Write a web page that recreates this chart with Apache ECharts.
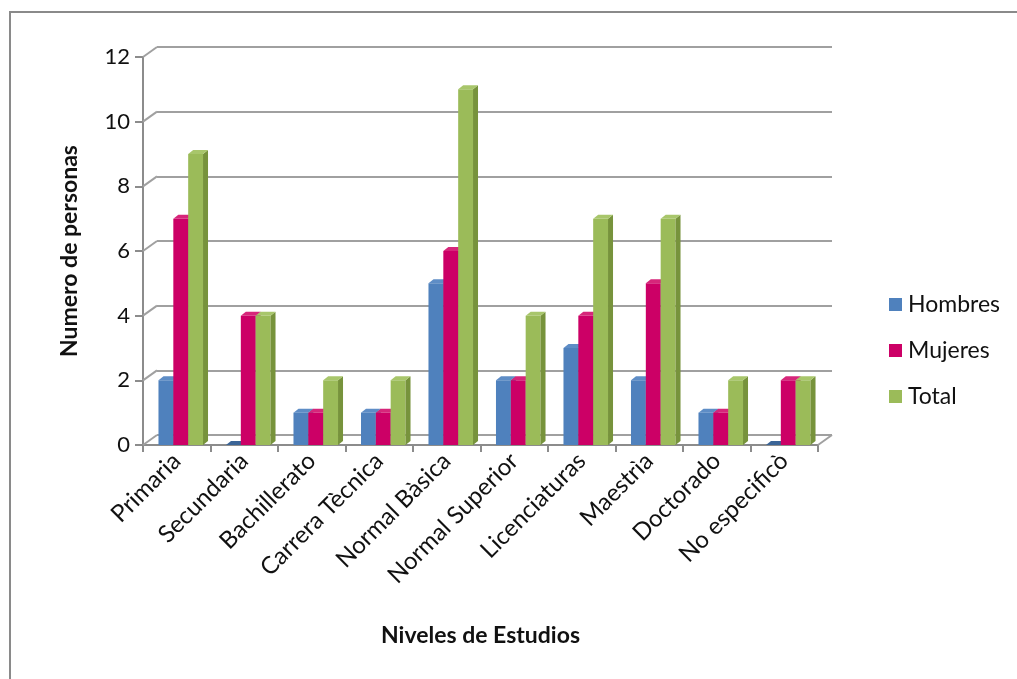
<!DOCTYPE html>
<html><head><meta charset="utf-8">
<script src="https://cdn.jsdelivr.net/npm/echarts@6/dist/echarts.min.js"></script>
<style>html,body{margin:0;padding:0;background:#fff}#c{width:1017px;height:679px}</style>
</head><body><div id="c"></div>
<script>
var categories = ['Primaria','Secundaria','Bachillerato','Carrera Tècnica','Normal Bàsica','Normal Superior','Licenciaturas','Maestrìa','Doctorado','No especificò'];
var hombres = [2,0,1,1,5,2,3,2,1,0];
var mujeres = [7,4,1,1,6,2,4,5,1,2];
var total   = [9,4,2,2,11,4,7,7,2,2];
var seriesNames = ['Hombres','Mujeres','Total'];
var yTicks = [0,2,4,6,8,10,12];

var FONT = 'Lato, "Open Sans", sans-serif';
var front = ['#4F81BD','#CC0066','#9BBB59'];
var side  = ['#3A6496','#99004D','#77933C'];
var topc  = ['#5E8DC6','#D6267A','#A8C66B'];
var DX = 14, DY = -10;   // back-wall offset
var BDX = 5, BDY = -4;   // bar depth

function barRender(si){
  return function(params, api){
    var cat = api.value(0), val = api.value(1);
    var base = api.coord([cat, 0]);
    var tp = api.coord([cat, val]);
    var band = api.size([1,0])[0];
    var bw = band*0.22;
    var x0 = base[0] + 4 - 1.5*bw + si*bw;
    var y0 = tp[1], yb = base[1];
    var children = [];
    if (val > 0) {
      children.push({type:'rect', shape:{x:x0, y:y0, width:bw, height:yb-y0}, style:{fill:front[si]}});
      children.push({type:'polygon', shape:{points:[[x0+bw,y0],[x0+bw+BDX,y0+BDY],[x0+bw+BDX,yb+BDY],[x0+bw,yb]]}, style:{fill:side[si]}});
    }
    children.push({type:'polygon', shape:{points:[[x0,y0],[x0+BDX,y0+BDY],[x0+bw+BDX,y0+BDY],[x0+bw,y0]]}, style:{fill: val>0 ? topc[si] : side[si]}});
    return {type:'group', children:children};
  };
}

function diagRender(params, api){
  var v = api.value(0);
  var cs = params.coordSys;
  var y = api.coord([0, v])[1];
  var children = [{type:'line', shape:{x1:cs.x, y1:y, x2:cs.x+DX, y2:y+DY}, style:{stroke:'#a0a0a0', lineWidth:2}}];
  if (v === 0) {
    children.push({type:'line', shape:{x1:cs.x+cs.width, y1:y, x2:cs.x+cs.width+DX, y2:y+DY}, style:{stroke:'#a0a0a0', lineWidth:2}});
  }
  return {type:'group', children:children};
}

var chart = echarts.init(document.getElementById('c'));
var mk = function(arr){ return arr.map(function(v,i){ return [i, v]; }); };
var data = [hombres, mujeres, total];
var series = [];
for (var s=0; s<3; s++) {
  series.push({type:'custom', name:seriesNames[s], xAxisIndex:0, yAxisIndex:0, renderItem:barRender(s), data:mk(data[s]), itemStyle:{color:front[s]}, z:5});
}
series.push({type:'custom', name:'_diag', xAxisIndex:0, yAxisIndex:0, renderItem:diagRender, data:yTicks.map(function(v){return [v];}), encode:{x:-1,y:0}, silent:true, z:1});

chart.setOption({
  animation:false,
  backgroundColor:'#fff',
  graphic:[{type:'rect', shape:{x:10, y:12, width:1100, height:700}, style:{fill:'none', stroke:'#8a8a8a', lineWidth:2}, z:-10}],
  grid:[
    {left:143, top:57, width:675, height:388},
    {left:143+DX, top:57+DY, width:675, height:388}
  ],
  legend:{
    data:seriesNames, orient:'vertical', left:884, top:288, itemGap:23, itemWidth:13, itemHeight:13,
    icon:'rect', textStyle:{fontFamily:FONT, fontSize:23, color:'#111', padding:[0,0,0,1]}
  },
  xAxis:[
    {type:'category', gridIndex:0, data:categories, boundaryGap:true,
     axisLine:{lineStyle:{color:'#8c8c8c', width:2}},
     axisTick:{show:true, length:7, lineStyle:{color:'#8c8c8c', width:2}},
     axisLabel:{rotate:45, fontFamily:FONT, fontSize:24, color:'#111', margin:12, interval:0},
     name:'Niveles de Estudios', nameLocation:'middle', nameGap:179,
     nameTextStyle:{fontFamily:FONT, fontSize:23, fontWeight:'bold', color:'#111'}},
    {type:'category', gridIndex:1, data:categories, show:false}
  ],
  yAxis:[
    {type:'value', gridIndex:0, min:0, max:12, interval:2,
     axisLine:{show:true, lineStyle:{color:'#8c8c8c', width:2}},
     axisTick:{show:true, length:8, lineStyle:{color:'#8c8c8c', width:2}},
     splitLine:{show:false},
     axisLabel:{fontFamily:FONT, fontSize:22, color:'#111', margin:13},
     name:'Numero de personas', nameLocation:'middle', nameGap:62,
     nameTextStyle:{fontFamily:FONT, fontSize:23, fontWeight:'bold', color:'#111'}},
    {type:'value', gridIndex:1, min:0, max:12, interval:2,
     axisLine:{show:false}, axisTick:{show:false}, axisLabel:{show:false},
     splitLine:{show:true, lineStyle:{color:'#a0a0a0', width:2}}}
  ],
  series:series
});
</script></body></html>
